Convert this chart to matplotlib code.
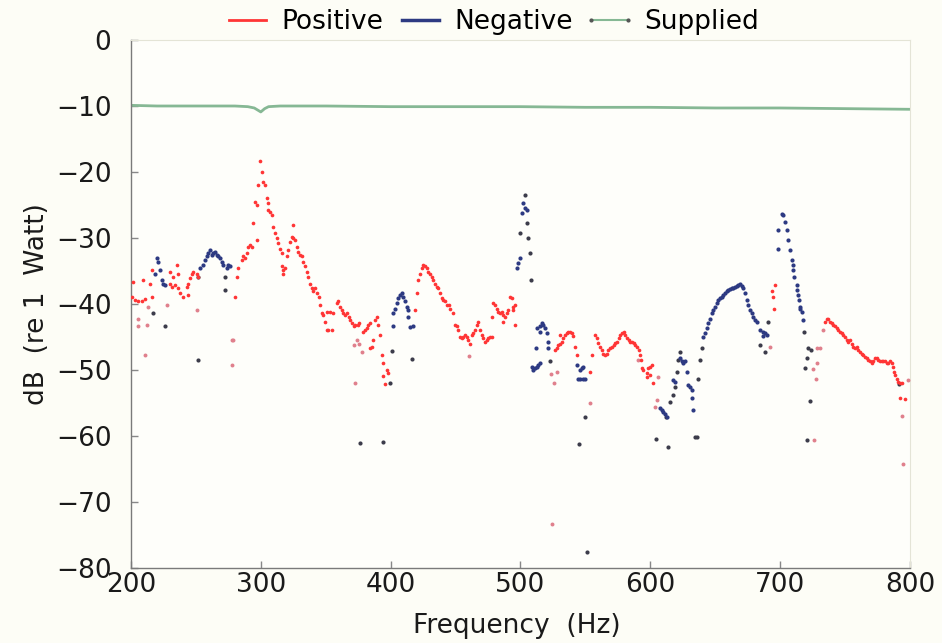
import matplotlib
matplotlib.use("Agg")
import matplotlib.pyplot as plt
from matplotlib.lines import Line2D

# ---- measured sound power, dB re 1 W ----
pos_freq = [200.5, 201.8, 203.0, 205.4, 208.2, 209.5, 210.8, 214.6, 216.0, 216.0,
            230.0, 230.0, 231.3, 232.6, 233.9, 235.2, 236.4, 236.4, 237.7, 240.3,
            242.9, 244.1, 244.1, 245.4, 246.8, 248.0, 250.6, 251.8,
            280.1, 281.4, 282.6, 285.3, 286.5, 287.8, 289.1, 290.4, 291.7, 293.0,
            294.2, 295.5, 296.8, 296.8, 298.0, 299.4, 300.7, 301.9, 303.2, 304.5,
            305.8, 305.8, 307.1, 308.4, 309.6, 310.9, 312.2, 313.5, 314.8, 316.1,
            316.1, 317.3, 317.3, 318.6, 319.9, 321.2, 322.5, 323.8, 324.6, 325.1,
            326.4, 327.7, 329.0, 330.2, 331.5, 332.8, 334.1, 335.4, 336.7, 338.0,
            339.3, 340.6, 341.9, 343.2, 344.5, 345.6, 346.9, 348.1, 349.4, 350.7,
            350.7, 352.0, 353.3, 354.6, 355.9, 358.5, 359.8, 361.1, 362.4, 363.7,
            365.0, 366.3, 367.6, 369.0, 370.3, 371.5, 372.8, 375.1, 375.4, 378.9,
            380.2, 381.5, 382.8, 384.1, 384.1, 385.4, 386.6, 387.9, 389.2, 390.5,
            391.8, 393.1, 394.4, 394.4, 395.7, 397.0, 398.3,
            418.7, 420.0, 421.3, 422.6, 423.9, 425.2, 426.5, 427.8, 429.1, 430.3,
            431.6, 432.9, 434.2, 435.5, 436.8, 438.1, 439.4, 440.7, 442.0, 443.3,
            444.6, 445.9, 448.4, 449.6, 450.9, 452.2, 453.5, 454.8, 456.1, 457.3,
            458.6, 459.9, 461.1, 462.4, 463.7, 465.0, 466.3, 467.5, 468.8, 470.1,
            471.4, 472.7, 474.0, 475.3, 476.5, 477.8, 477.8, 479.1, 480.4, 481.7,
            483.0, 484.3, 485.6, 486.9, 486.9, 488.1, 489.4, 490.7, 492.0, 493.3,
            494.6, 494.6, 495.8, 495.8,
            526.6, 527.9, 529.2, 530.5, 530.5, 531.8, 533.1, 534.4, 535.7, 537.0,
            538.1, 539.4, 540.7, 542.0, 543.4, 553.5, 554.9, 557.4, 558.7, 560.0,
            561.3, 562.6, 563.9, 565.2, 566.5, 567.8, 569.1, 570.4, 571.7, 573.0,
            574.3, 575.6, 576.9, 578.2, 579.5, 580.8, 582.1, 583.4, 584.7, 586.0,
            587.3, 588.6, 589.9, 591.2, 592.0, 592.5, 593.3, 594.6, 597.2, 597.2,
            598.5, 599.8, 599.8, 601.1, 602.3,
            693.5, 694.7, 695.3, 696.0,
            734.5, 735.8, 737.1, 738.4, 739.7, 741.0, 742.3, 743.6, 744.9, 746.1,
            747.4, 748.7, 750.0, 751.3, 752.5, 753.9, 755.2, 756.3, 757.6, 759.0,
            760.2, 761.5, 762.8, 764.0, 765.3, 766.6, 767.9, 769.2, 770.5, 771.7,
            773.0, 774.4, 775.6, 776.9, 778.3, 779.4, 780.8, 782.1, 783.3, 784.6,
            785.9, 786.7, 787.7, 788.5, 789.8, 791.0, 792.3, 793.6, 792.3, 796.2]
pos_db = [-38.9, -36.6, -39.4, -39.6, -39.6, -36.3, -39.3, -36.9, -34.8, -38.9,
          -35.1, -36.9, -37.4, -35.9, -37.1, -34.1, -35.4, -37.6, -38.4, -38.9,
          -37.4, -36.9, -38.6, -36.1, -35.4, -35.1, -35.4, -35.9,
          -38.9, -35.9, -34.6, -33.3, -32.8, -33.1, -32.3, -31.3, -31.1, -31.3,
          -27.8, -24.5, -25.0, -30.3, -22.0, -18.4, -20.0, -21.5, -22.0, -24.0,
          -24.7, -25.8, -26.0, -26.5, -28.3, -29.3, -30.0, -30.8, -31.6, -32.3,
          -34.3, -34.8, -35.4, -34.6, -32.8, -31.8, -30.6, -29.8, -28.0, -30.0,
          -30.3, -31.3, -32.1, -32.6, -32.8, -33.6, -34.3, -35.1, -35.9, -36.9,
          -37.6, -38.1, -37.6, -38.4, -38.9, -40.2, -41.4, -41.7, -42.7, -41.2,
          -43.9, -43.9, -41.2, -43.9, -41.4, -39.9, -39.6, -40.4, -40.9, -41.4,
          -41.7, -41.4, -41.9, -42.4, -42.9, -43.4, -43.2, -43.2, -42.9, -44.2,
          -43.9, -43.7, -43.2, -42.9, -46.7, -46.5, -45.5, -42.4, -41.9, -43.2,
          -44.7, -47.7, -49.0, -50.9, -52.1, -50.0, -50.5,
          -40.9, -38.3, -36.4, -35.4, -34.6, -34.1, -34.3, -34.6, -35.1, -35.4,
          -35.9, -36.4, -36.9, -37.4, -37.6, -38.4, -39.1, -39.4, -39.6, -40.2,
          -40.2, -40.7, -41.4, -43.2, -43.4, -43.9, -45.0, -45.2, -45.0, -44.7,
          -45.0, -45.5, -46.0, -44.7, -44.4, -43.9, -43.2, -42.7, -43.9, -44.7,
          -45.2, -45.7, -45.5, -45.2, -45.0, -45.0, -41.9, -39.9, -40.2, -40.7,
          -41.2, -41.4, -41.2, -41.7, -42.7, -41.9, -41.4, -40.9, -38.9, -39.1,
          -40.4, -40.9, -40.2, -43.2,
          -47.0, -46.7, -46.2, -46.0, -44.7, -45.7, -45.2, -44.7, -44.4, -44.2,
          -44.2, -44.4, -44.9, -46.5, -47.7, -50.3, -47.7, -44.7, -45.2, -45.9,
          -46.5, -47.0, -47.5, -47.7, -47.5, -47.0, -46.7, -46.5, -46.2, -45.9,
          -45.7, -45.2, -44.7, -44.4, -44.2, -44.7, -45.2, -45.5, -45.7, -45.7,
          -45.9, -46.2, -46.5, -47.0, -47.7, -48.5, -49.7, -50.0, -50.5, -51.0,
          -49.7, -49.5, -50.8, -49.2, -52.0,
          -38.1, -38.9, -40.7, -37.1,
          -42.7, -42.2, -42.3, -42.7, -42.9, -43.2, -43.4, -43.7, -43.9, -44.2,
          -44.4, -44.7, -45.0, -45.5, -45.7, -45.5, -46.0, -46.5, -46.7, -46.5,
          -47.0, -47.2, -47.5, -47.7, -48.0, -48.2, -48.5, -48.7, -49.0, -48.7,
          -48.2, -48.2, -48.5, -48.6, -48.7, -48.6, -48.7, -49.0, -49.0, -48.7,
          -49.0, -49.5, -50.3, -50.8, -51.3, -51.8, -52.0, -51.9, -54.2, -54.4]

# isolated positive-power bins
pos_iso_freq = [205.6, 205.6, 210.8, 212.0, 213.4, 227.5, 250.6, 277.6, 278.8, 277.6,
                371.5, 374.1, 375.4, 372.8, 377.7, 460.6, 523.2, 525.8, 527.9, 524.0,
                553.5, 590.8, 603.6, 604.9, 606.2, 692.2, 725.6, 727.6, 728.2, 728.2,
                730.7, 732.8, 726.1, 793.6, 794.9, 798.7]
pos_iso_db = [-42.2, -43.4, -47.7, -43.2, -40.4, -40.2, -40.9, -45.5, -45.5, -49.2,
              -46.2, -45.5, -46.0, -51.9, -47.2, -47.9, -50.6, -52.0, -50.3, -73.3,
              -55.0, -48.5, -55.6, -54.5, -51.0, -46.5, -49.8, -51.3, -49.0, -46.7,
              -46.7, -44.0, -60.6, -57.0, -64.2, -51.5]

neg_freq = [218.5, 219.8, 221.0, 222.3, 223.6, 224.9, 226.2,
            253.1, 255.7, 257.0, 258.3, 259.5, 260.8, 262.1, 263.4, 264.7, 266.0,
            267.3, 268.6, 269.9, 271.2, 273.8, 275.1, 276.4,
            402.0, 402.0, 403.3, 404.6, 405.9, 407.2, 408.5, 409.8, 411.1, 412.4,
            413.6, 413.6, 414.9, 417.4,
            497.0, 498.3, 499.6, 500.9, 502.2, 503.5, 504.8,
            508.6, 509.9, 511.2, 512.5, 513.8, 515.1, 511.9, 512.5, 515.1, 515.1,
            516.4, 517.7, 519.0, 520.3, 521.4, 521.4,
            543.3, 544.6, 545.9, 545.9, 547.2, 548.5, 548.5, 549.8,
            607.5, 608.8, 610.0, 611.3, 612.6, 617.7, 619.0, 622.9, 624.2, 625.4,
            626.7, 628.0, 629.3, 630.6, 631.9, 631.9, 633.1,
            640.8, 642.1, 643.4, 644.7, 646.0, 647.3, 648.5, 649.8, 651.2, 652.4,
            653.7, 655.0, 656.2, 657.5, 658.8, 660.1, 661.4, 662.7, 663.9, 665.2,
            666.5, 667.8, 669.1, 670.4, 671.6, 672.9, 674.3, 675.5, 676.8, 678.1,
            679.3, 680.6, 681.9, 684.5, 687.0, 688.3, 689.6, 687.0,
            698.6, 698.6, 701.2, 702.4, 703.7, 705.0, 706.3, 707.6, 708.9, 709.7,
            710.1, 710.7, 712.7, 713.2, 714.0, 714.8, 715.3, 715.3, 716.6, 717.4]
neg_db = [-35.4, -33.1, -33.6, -34.8, -36.4, -36.9, -37.1,
          -34.6, -34.1, -33.3, -32.8, -32.3, -31.8, -32.6, -32.3, -32.1, -32.6,
          -32.8, -33.1, -33.6, -34.1, -34.6, -34.1, -34.3,
          -41.4, -43.4, -40.7, -39.9, -39.1, -38.6, -38.4, -38.9, -39.6, -40.4,
          -40.9, -41.9, -43.5, -43.3,
          -34.6, -33.8, -33.1, -26.2, -24.7, -25.5, -25.7,
          -49.5, -50.0, -49.7, -49.5, -49.2, -49.0, -46.7, -43.7, -43.4, -44.2,
          -42.9, -43.2, -43.7, -44.4, -45.7, -46.7,
          -49.2, -51.3, -50.0, -51.4, -49.7, -49.5, -51.4, -51.3,
          -55.8, -56.1, -56.3, -56.6, -57.1, -51.5, -51.8, -48.2, -48.7, -49.0,
          -48.7, -50.3, -52.3, -52.5, -53.0, -54.3, -56.1,
          -45.0, -44.4, -43.7, -42.9, -42.2, -41.4, -40.9, -40.4, -39.9, -39.4,
          -39.1, -38.9, -38.6, -38.4, -38.1, -37.9, -37.8, -37.6, -37.5, -37.4,
          -37.3, -37.1, -37.0, -37.2, -37.6, -38.4, -39.4, -40.2, -40.9, -41.4,
          -41.9, -42.4, -42.7, -43.9, -44.2, -44.4, -44.7, -44.9,
          -28.8, -31.6, -26.3, -26.5, -27.5, -28.8, -30.3, -31.8, -33.3, -34.1,
          -34.8, -35.9, -37.1, -37.9, -38.6, -39.4, -40.4, -40.7, -41.2, -42.4]

# isolated negative-power bins
neg_iso_freq = [217.2, 226.2, 251.8, 251.8, 272.4, 272.4, 376.4, 394.4, 399.5, 400.8,
                416.2, 499.6, 503.5, 504.8, 506.0, 507.3, 507.8, 522.7, 545.3, 549.7,
                551.0, 604.1, 612.1, 613.8, 615.2, 617.7, 619.0, 620.3, 621.6, 622.9,
                634.4, 635.7, 636.9, 638.3, 639.6, 684.5, 688.3, 690.9, 718.4, 719.1,
                720.5, 721.7, 723.5, 723.0, 720.9, 791.5]
neg_iso_db = [-41.4, -43.4, -48.5, -35.9, -35.9, -37.9, -61.1, -60.9, -52.0, -47.1,
              -48.3, -29.3, -23.5, -27.8, -30.0, -32.3, -36.4, -48.7, -61.2, -57.1,
              -77.5, -60.5, -57.1, -61.6, -54.8, -53.8, -52.5, -50.3, -48.5, -47.2,
              -60.1, -60.1, -51.3, -48.5, -46.7, -46.2, -47.2, -42.7, -44.2, -49.7,
              -48.2, -46.7, -47.0, -54.7, -60.6, -52.1]

# supplied power
sup_freq = [200, 220, 250, 280, 290, 295, 300, 303, 306, 315, 350, 400, 450, 500,
            550, 600, 650, 700, 750, 800]
sup_db = [-9.9, -10.0, -10.0, -10.0, -10.1, -10.3, -10.9, -10.4, -10.1, -10.0,
          -10.0, -10.1, -10.1, -10.1, -10.2, -10.2, -10.3, -10.3, -10.4, -10.5]

x_ticks = [200, 300, 400, 500, 600, 700, 800]
y_ticks = [0, -10, -20, -30, -40, -50, -60, -70, -80]

RED = "#ff3535"
NAVY = "#2d3a82"
PINK = "#e0808c"
DARK = "#3c3c4a"
GREEN = "#86b894"
FS = 19

plt.rcParams["font.family"] = ["DejaVu Sans"]
fig = plt.figure(figsize=(9.42, 6.43), dpi=100, facecolor="#fdfdf6")
ax = fig.add_axes([0.139, 0.1166, 0.827, 0.8212])
ax.set_facecolor("#fefefa")

ax.plot(sup_freq, sup_db, color=GREEN, lw=2.0, zorder=2)
ax.scatter(pos_iso_freq, pos_iso_db, s=8, color=PINK, linewidths=0, zorder=3)
ax.scatter(neg_iso_freq, neg_iso_db, s=9, color=DARK, linewidths=0, zorder=3)
ax.scatter(pos_freq, pos_db, s=7, color=RED, linewidths=0, zorder=4)
ax.scatter(neg_freq, neg_db, s=9, color=NAVY, linewidths=0, zorder=4)

ax.set_xlim(200, 800)
ax.set_ylim(-80, 0)
ax.set_xticks(x_ticks)
ax.set_yticks(y_ticks)
ax.set_xticklabels([str(v) for v in x_ticks])
ax.set_yticklabels([str(v).replace("-", "\u2212") for v in y_ticks])
ax.tick_params(direction="in", length=5, width=1, colors="#888888",
               labelcolor="#1a1a1a", labelsize=FS)
ax.tick_params(axis="x", pad=3)
ax.tick_params(axis="y", pad=14)

for side in ("left", "bottom"):
    ax.spines[side].set_color("#7a7a7a")
    ax.spines[side].set_linewidth(1.0)
for side in ("top", "right"):
    ax.spines[side].set_color("#e4e4d6")
    ax.spines[side].set_linewidth(0.8)

ax.set_xlabel("Frequency  (Hz)", fontsize=FS, color="#1a1a1a", labelpad=-1)
ax.set_ylabel("dB  (re 1  Watt)", fontsize=FS, color="#1a1a1a", labelpad=4)
ax.xaxis.set_label_coords(0.495, -0.085)

handles = [Line2D([], [], color=RED, lw=2),
           Line2D([], [], color=NAVY, lw=2.5),
           Line2D([], [], color=GREEN, lw=1.5, marker="o", ms=2,
                  mfc="#555555", mec="#555555")]
fig.legend(handles, ["Positive", "Negative", "Supplied"], loc="center",
           bbox_to_anchor=(0.52, 0.966), ncol=3, frameon=False, fontsize=FS,
           handlelength=2.0, handletextpad=0.3, columnspacing=0.4, numpoints=2)

fig.savefig("out.png", dpi=100, facecolor=fig.get_facecolor())
